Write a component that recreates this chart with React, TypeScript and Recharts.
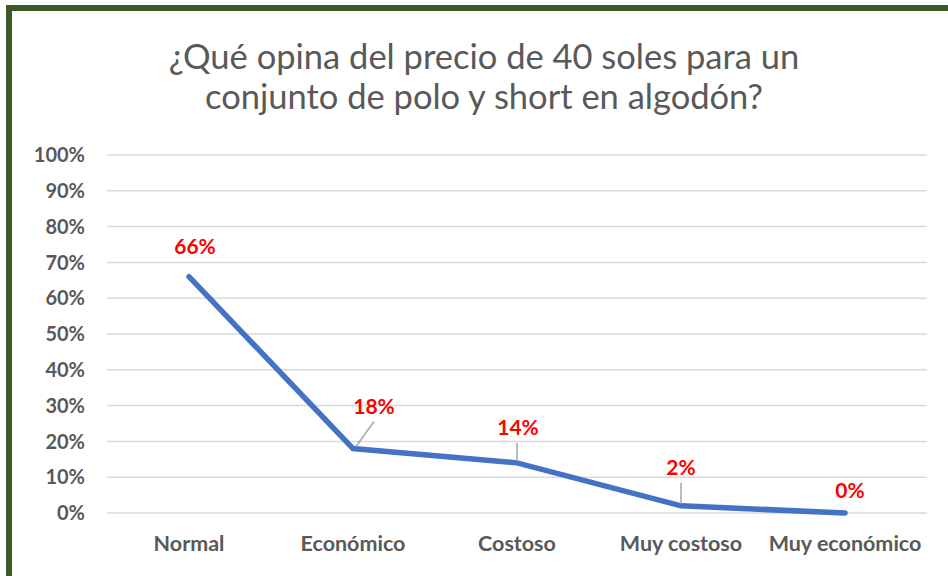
import React from 'react';
import { LineChart, Line, XAxis, YAxis, CartesianGrid, LabelList } from 'recharts';

const categories = ['Normal', 'Económico', 'Costoso', 'Muy costoso', 'Muy económico'];
const values = [66, 18, 14, 2, 0];
const yTicks = [0, 10, 20, 30, 40, 50, 60, 70, 80, 90, 100];

// label placement relative to each point: [dx, dy, leader?]
const LABEL_OFFSETS: [number, number, boolean][] = [
  [6, -31, false],
  [21, -43, true],
  [1, -36, true],
  [0, -39, true],
  [5, -24, false],
];

const data = categories.map((name, i) => ({ name, value: values[i] }));

const FONT = 'Lato, "Open Sans", sans-serif';
const GRAY = '#595959';

const PointLabel = (props: any) => {
  const { x, y, index, value } = props;
  const [dx, dy, leader] = LABEL_OFFSETS[index];
  const lx = x + dx;
  const ly = y + dy;
  return (
    <g>
      {leader && (
        <line
          x1={x + (dx > 5 ? 3 : 0)}
          y1={y - 2}
          x2={x + (dx > 5 ? dx : 0)}
          y2={ly + 16}
          stroke="#A6A6A6"
          strokeWidth={1.5}
        />
      )}
      <text
        x={lx}
        y={ly}
        textAnchor="middle"
        dominantBaseline="central"
        fill="#FF0000"
        fontFamily={FONT}
        fontWeight={700}
        fontSize={21}
      >
        {value}%
      </text>
    </g>
  );
};

export default function App() {
  return (
    <div
      style={{
        position: 'absolute',
        left: 0,
        top: 0,
        width: 948,
        height: 576,
        overflow: 'hidden',
        background: '#fff',
      }}
    >
      <div
        style={{
          position: 'absolute',
          left: 6,
          top: 5,
          width: 960,
          height: 567,
          borderLeft: '6px solid #3B5A25',
          borderTop: '6px solid #3B5A25',
          borderBottom: '2px solid #BFBFBF',
          background: '#fff',
        }}
      />
      <div
        style={{
          position: 'absolute',
          left: 0,
          top: 36,
          width: 968,
          textAlign: 'center',
          fontFamily: FONT,
          fontSize: 34.5,
          lineHeight: '40px',
          color: GRAY,
        }}
      >
        ¿Qué opina del precio de 40 soles para un
        <br />
        conjunto de polo y short en algodón?
      </div>
      <div style={{ position: 'absolute', left: 0, top: 0 }}>
        <LineChart
          width={948}
          height={576}
          data={data}
          margin={{ top: 155, right: 21, bottom: 0, left: 0 }}
        >
          <CartesianGrid vertical={false} stroke="#D9D9D9" strokeWidth={1.5} />
          <XAxis
            dataKey="name"
            height={63}
            padding={{ left: 82, right: 82 }}
            axisLine={false}
            tickLine={false}
            tickSize={0}
            tickMargin={23}
            interval={0}
            tick={{ fill: GRAY, fontFamily: FONT, fontWeight: 700, fontSize: 21.5 }}
          />
          <YAxis
            width={107}
            domain={[0, 100]}
            ticks={yTicks}
            tickFormatter={(v: number) => `${v}%`}
            axisLine={false}
            tickLine={false}
            tickSize={0}
            tickMargin={22}
            tick={{ fill: GRAY, fontFamily: FONT, fontWeight: 700, fontSize: 20 }}
          />
          <Line
            type="linear"
            dataKey="value"
            stroke="#4472C4"
            strokeWidth={5.5}
            strokeLinecap="round"
            dot={false}
            activeDot={false}
            isAnimationActive={false}
          >
            <LabelList dataKey="value" content={<PointLabel />} />
          </Line>
        </LineChart>
      </div>
    </div>
  );
}
